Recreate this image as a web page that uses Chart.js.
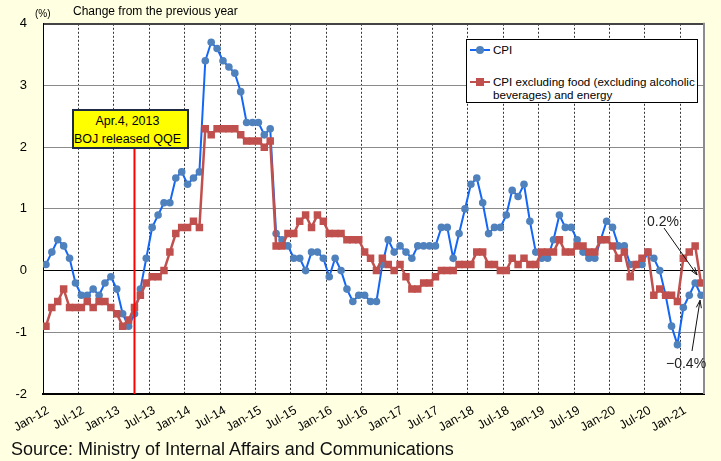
<!DOCTYPE html>
<html>
<head>
<meta charset="utf-8">
<script src="https://cdn.jsdelivr.net/npm/chart.js@4.4.1/dist/chart.umd.min.js"></script>
<style>
  html, body { margin: 0; padding: 0; }
  body { width: 721px; height: 461px; overflow: hidden; }
  #wrap { position: relative; width: 721px; height: 461px; background: #FFFFE1;
          font-family: Arial, "Liberation Sans", sans-serif; color: #000; }
  #wrap canvas { position: absolute; left: 0; top: 0; }
  .txt { position: absolute; white-space: nowrap; line-height: 1; }
  #qqe { position: absolute; box-sizing: border-box; background: #FFFF00; border: 2px solid #1F2B45;
         font-size: 12.5px; line-height: 18px; text-align: center; padding: 1px 6px 0 0; }
  #legend { position: absolute; box-sizing: border-box; background: #fff; border: 1px solid #000;
            font-size: 11.6px; line-height: 13px; }
  .item { position: absolute; left: 3px; }
  .icon { position: absolute; left: 0; width: 20px; height: 2px; }
  .mark { position: absolute; }
  .label { position: absolute; left: 23px; white-space: nowrap; }
</style>
</head>
<body>
<div id="wrap">
  <canvas id="chart" width="721" height="461"></canvas>
  <div class="txt" style="left:35px; top:9px; font-size:10px;">(%)</div>
  <div class="txt" style="left:73px; top:5px; font-size:12px;">Change from the previous year</div>
  <div id="qqe"><div>Apr.4, 2013</div><div>BOJ released QQE</div></div>
  <div id="legend">
    <div class="item" style="top:9px;">
      <span class="icon" style="background:#1466F5; top:0;"></span>
      <span class="mark" style="left:6px; top:-3px; width:8px; height:8px; border-radius:50%; background:#4F81BD;"></span>
      <span class="label" style="top:-6px;">CPI</span>
    </div>
    <div class="item" style="top:41px;">
      <span class="icon" style="background:#C0504D; top:0;"></span>
      <span class="mark" style="left:6px; top:-3px; width:8px; height:8px; background:#C0504D;"></span>
      <span class="label" style="top:-6px;">CPI excluding food (excluding alcoholic<br>beverages) and energy</span>
    </div>
  </div>
  <div class="txt" style="left:647px; top:214px; font-size:14px; color:#222;">0.2%</div>
  <div class="txt" style="left:666px; top:356px; font-size:14px; color:#222;">&minus;0.4%</div>
  <div class="txt" style="left:11px; top:440px; font-size:18px; color:#111;">Source: Ministry of Internal Affairs and Communications</div>
</div>
<script>
// Year-on-year change (%), monthly, Jan-2012 .. Apr-2021
const cpi = [
   0.1,  0.3,  0.5,  0.4,  0.2, -0.2, -0.4, -0.4, -0.3, -0.4, -0.2, -0.1,  // 2012
  -0.3, -0.7, -0.9, -0.7, -0.3,  0.2,  0.7,  0.9,  1.1,  1.1,  1.5,  1.6,  // 2013
   1.4,  1.5,  1.6,  3.4,  3.7,  3.6,  3.4,  3.3,  3.2,  2.9,  2.4,  2.4,  // 2014
   2.4,  2.2,  2.3,  0.6,  0.5,  0.4,  0.2,  0.2,  0.0,  0.3,  0.3,  0.2,  // 2015
  -0.1,  0.2,  0.0, -0.3, -0.5, -0.4, -0.4, -0.5, -0.5,  0.1,  0.5,  0.3,  // 2016
   0.4,  0.3,  0.2,  0.4,  0.4,  0.4,  0.4,  0.7,  0.7,  0.2,  0.6,  1.0,  // 2017
   1.4,  1.5,  1.1,  0.6,  0.7,  0.7,  0.9,  1.3,  1.2,  1.4,  0.8,  0.3,  // 2018
   0.2,  0.2,  0.5,  0.9,  0.7,  0.7,  0.5,  0.3,  0.2,  0.2,  0.5,  0.8,  // 2019
   0.7,  0.4,  0.4,  0.1,  0.1,  0.1,  0.3,  0.2,  0.0, -0.4, -0.9, -1.2,  // 2020
  -0.6, -0.4, -0.2, -0.4                                                   // 2021
];
const coreCore = [
  -0.9, -0.6, -0.5, -0.3, -0.6, -0.6, -0.6, -0.5, -0.6, -0.5, -0.5, -0.6,  // 2012
  -0.7, -0.9, -0.8, -0.6, -0.4, -0.2, -0.1, -0.1,  0.0,  0.3,  0.6,  0.7,  // 2013
   0.7,  0.8,  0.7,  2.3,  2.2,  2.3,  2.3,  2.3,  2.3,  2.2,  2.1,  2.1,  // 2014
   2.1,  2.0,  2.1,  0.4,  0.4,  0.6,  0.6,  0.8,  0.9,  0.7,  0.9,  0.8,  // 2015
   0.6,  0.6,  0.6,  0.5,  0.5,  0.5,  0.3,  0.2,  0.0,  0.2,  0.1,  0.0,  // 2016
   0.1, -0.1, -0.3, -0.3, -0.2, -0.2, -0.1,  0.0,  0.0,  0.0,  0.1,  0.1,  // 2017
   0.1,  0.3,  0.3,  0.1,  0.1,  0.0,  0.0,  0.2,  0.1,  0.2,  0.1,  0.1,  // 2018
   0.3,  0.3,  0.3,  0.5,  0.3,  0.3,  0.4,  0.4,  0.3,  0.3,  0.5,  0.5,  // 2019
   0.4,  0.2,  0.3, -0.1,  0.1,  0.2,  0.3, -0.4, -0.3, -0.4, -0.4, -0.5,  // 2020
   0.2,  0.3,  0.4, -0.2                                                   // 2021
];
const monthNames = ['Jan', 'Feb', 'Mar', 'Apr', 'May', 'Jun', 'Jul', 'Aug', 'Sep', 'Oct', 'Nov', 'Dec'];
const startYear = 2012;
const categories = cpi.map((_, i) => monthNames[i % 12] + '-' + String(startYear + Math.floor(i / 12)).slice(2));
const tickLabels = ['Jan-12', 'Jul-12', 'Jan-13', 'Jul-13', 'Jan-14', 'Jul-14', 'Jan-15', 'Jul-15', 'Jan-16', 'Jul-16',
                    'Jan-17', 'Jul-17', 'Jan-18', 'Jul-18', 'Jan-19', 'Jul-19', 'Jan-20', 'Jul-20', 'Jan-21'];
const yTicks = [-2, -1, 0, 1, 2, 3, 4];
const qqeMonth = 'Apr-13';

// placement of the boxes (layout only)
const qqeBox = { left: 72, top: 109, width: 117, height: 40 };
const legendBox = { left: 466, top: 39, width: 232, height: 64 };

const qqeEl = document.getElementById('qqe');
Object.assign(qqeEl.style, { left: qqeBox.left + 'px', top: qqeBox.top + 'px', width: qqeBox.width + 'px', height: qqeBox.height + 'px' });
const legEl = document.getElementById('legend');
Object.assign(legEl.style, { left: legendBox.left + 'px', top: legendBox.top + 'px', width: legendBox.width + 'px', height: legendBox.height + 'px' });

Chart.defaults.font.family = 'Arial, "Liberation Sans", sans-serif';
Chart.defaults.color = '#000';

// points sit in the middle of their month, grid lines on the month boundaries
const toPoints = arr => arr.map((v, i) => ({ x: i + 0.5, y: v }));

function drawArrow(ctx, x1, y1, x2, y2) {
    const ang = Math.atan2(y2 - y1, x2 - x1);
    const len = 8, spread = 0.32;
    ctx.beginPath();
    ctx.moveTo(x1, y1);
    ctx.lineTo(x2, y2);
    ctx.moveTo(x2 - len * Math.cos(ang - spread), y2 - len * Math.sin(ang - spread));
    ctx.lineTo(x2, y2);
    ctx.lineTo(x2 - len * Math.cos(ang + spread), y2 - len * Math.sin(ang + spread));
    ctx.stroke();
}

const extrasPlugin = {
    id: 'extras',
    beforeDraw(chart) {
        const { ctx, chartArea: a } = chart;
        ctx.save();
        ctx.fillStyle = '#fff';
        ctx.fillRect(a.left, a.top, a.right - a.left, a.bottom - a.top);
        ctx.restore();
    },
    afterDraw(chart) {
        const { ctx, chartArea: a, scales } = chart;
        ctx.save();
        // right edge of the plot frame
        ctx.strokeStyle = '#8c8c8c';
        ctx.lineWidth = 2;
        ctx.beginPath();
        ctx.moveTo(a.right, a.top - 1);
        ctx.lineTo(a.right, a.bottom);
        ctx.stroke();

        // QQE marker line
        const xq = scales.x.getPixelForValue(categories.indexOf(qqeMonth) + 0.5);
        ctx.strokeStyle = '#FF0000';
        ctx.lineWidth = 2;
        ctx.beginPath();
        ctx.moveTo(xq, a.bottom);
        ctx.lineTo(xq, qqeBox.top + qqeBox.height);
        ctx.stroke();

        // arrows to the latest values
        const last = cpi.length - 1;
        const px = scales.x.getPixelForValue(last + 0.5);
        const yCore = scales.y.getPixelForValue(coreCore[last]);
        const yCpi = scales.y.getPixelForValue(cpi[last]);
        ctx.strokeStyle = '#111';
        ctx.lineWidth = 1;
        drawArrow(ctx, 664, 228, px - 4, yCore - 8);
        drawArrow(ctx, 692, 351, px - 1, yCpi + 5);
        ctx.restore();
    }
};

new Chart(document.getElementById('chart'), {
    type: 'line',
    data: {
        datasets: [
            {
                label: 'CPI',
                data: toPoints(cpi),
                borderColor: '#1466F5',
                borderWidth: 2,
                pointRadius: 3.8,
                pointBackgroundColor: '#4F81BD',
                pointBorderColor: '#4F81BD',
                pointBorderWidth: 0,
                tension: 0,
                order: 1
            },
            {
                label: 'CPI excluding food (excluding alcoholic beverages) and energy',
                data: toPoints(coreCore),
                borderColor: '#C0504D',
                borderWidth: 2.5,
                pointStyle: 'rect',
                pointRadius: 5.3,
                pointBackgroundColor: '#C0504D',
                pointBorderColor: '#C0504D',
                pointBorderWidth: 0,
                tension: 0,
                order: 0
            }
        ]
    },
    options: {
        responsive: false,
        animation: false,
        events: [],
        layout: { padding: { left: 0, right: 17, top: 23, bottom: 0 } },
        plugins: { legend: { display: false }, tooltip: { enabled: false } },
        scales: {
            x: {
                type: 'linear',
                min: 0,
                max: cpi.length,
                afterBuildTicks: scale => {
                    scale.ticks = tickLabels.map(l => ({ value: categories.indexOf(l) }));
                },
                afterFit: scale => { scale.height = 67; },
                ticks: {
                    autoSkip: false,
                    minRotation: 30,
                    maxRotation: 30,
                    padding: 9,
                    labelOffset: 5,
                    font: { size: 12.5 },
                    callback: value => categories[value]
                },
                grid: { color: '#333', lineWidth: 1, drawTicks: false },
                border: { display: true, color: '#000', width: 2, dash: [2, 2] }
            },
            y: {
                min: yTicks[0],
                max: yTicks[yTicks.length - 1],
                afterBuildTicks: scale => { scale.ticks = yTicks.map(v => ({ value: v })); },
                afterFit: scale => { scale.width = 43; },
                ticks: { padding: 16, font: { size: 13 } },
                grid: {
                    drawTicks: false,
                    color: c => (c.tick.value === 0 || c.tick.value === yTicks[0]) ? '#000' : (c.tick.value === yTicks[yTicks.length - 1] ? '#444' : '#8a8a8a'),
                    lineWidth: c => (c.tick.value === yTicks[yTicks.length - 1] ? 2 : 1)
                },
                border: { display: true, color: '#000', width: 1 }
            }
        }
    },
    plugins: [extrasPlugin]
});
</script>
</body>
</html>
